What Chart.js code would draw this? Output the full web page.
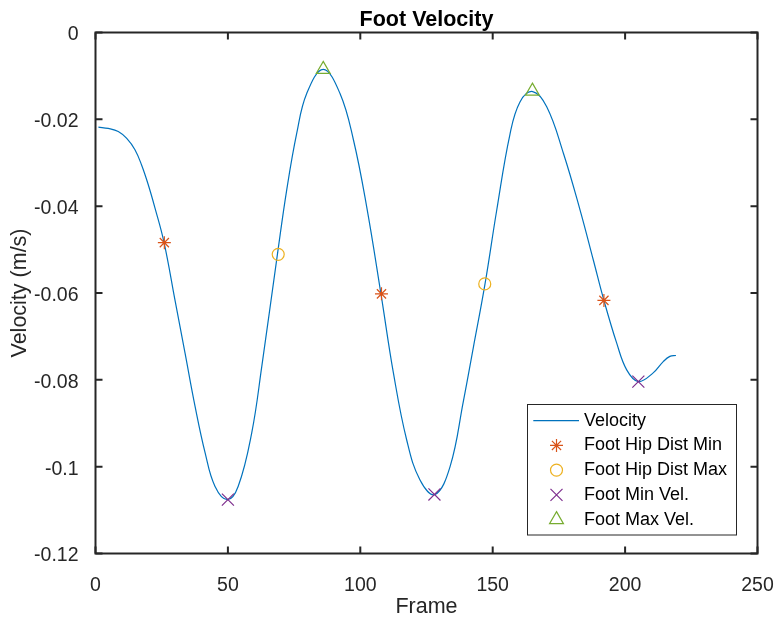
<!DOCTYPE html>
<html>
<head>
<meta charset="utf-8">
<script src="https://cdn.jsdelivr.net/npm/chart.js@4/dist/chart.umd.min.js"></script>
<style>
  html, body { margin: 0; padding: 0; background: #ffffff; }
  #wrap { width: 774px; height: 617px; }
</style>
</head>
<body>
<div id="wrap"><canvas id="c" width="774" height="617"></canvas></div>
<script>
// ---------------- data ----------------
const velocityFrames = [1.1, 4.8, 8.6, 11.8, 14.9, 17.4, 19.9, 22.5, 25.9, 30.0, 33.8, 37.6, 41.4, 45.1, 49.8, 53.9, 59.0, 62.8, 68.7, 72.2, 76.0, 79.8, 86.0, 92.3, 97.4, 102.4, 107.8, 112.5, 117.5, 122.5, 128.2, 133.9, 138.9, 142.7, 147.1, 151.5, 156.5, 160.3, 165.1, 170.4, 176.7, 183.0, 188.0, 192.0, 196.8, 200.6, 205.0, 210.6, 214.4, 216.9, 219.2];
const velocityValues = [-0.0218, -0.0221, -0.0228, -0.0244, -0.0270, -0.0305, -0.0350, -0.0405, -0.0484, -0.0616, -0.0738, -0.0861, -0.0968, -0.1045, -0.1076, -0.1045, -0.0922, -0.0769, -0.0511, -0.0363, -0.0232, -0.0140, -0.0085, -0.0140, -0.0247, -0.0401, -0.0602, -0.0784, -0.0938, -0.1030, -0.1064, -0.1000, -0.0850, -0.0725, -0.0579, -0.0410, -0.0235, -0.0160, -0.0136, -0.0171, -0.0278, -0.0409, -0.0524, -0.0617, -0.0715, -0.0777, -0.0804, -0.0784, -0.0758, -0.0746, -0.0744];

const hipMinFrames = [26, 108, 192];
const hipMinValues = [-0.0484, -0.0602, -0.0617];

const hipMaxFrames = [69, 147];
const hipMaxValues = [-0.0511, -0.0579];

const minVelFrames = [50, 128, 205];
const minVelValues = [-0.1076, -0.1064, -0.0804];

const maxVelFrames = [86, 165];
const maxVelValues = [-0.0085, -0.0135];

const seriesNames = ['Velocity', 'Foot Hip Dist Min', 'Foot Hip Dist Max', 'Foot Min Vel.', 'Foot Max Vel.'];
const xTickLabels = ['0', '50', '100', '150', '200', '250'];
const yTickLabels = ['0', '-0.02', '-0.04', '-0.06', '-0.08', '-0.1', '-0.12'];
const chartTitle = 'Foot Velocity';
const xTitle = 'Frame';
const yTitle = 'Velocity (m/s)';

// ---------------- helpers ----------------
const pts = (xs, ys) => xs.map((x, i) => ({ x: x, y: ys[i] }));
const FONT = "'Liberation Sans', Arial, Helvetica, sans-serif";
const AXC = '#262626';
const COLORS = ['#0072BD', '#D95319', '#EDB120', '#7E2F8E', '#77AC30'];

const markerStyles = [
  null,
  { pointStyle: 'star', radius: 6.5 },
  { pointStyle: 'circle', radius: 6 },
  { pointStyle: 'crossRot', radius: 8.5 },
  { pointStyle: 'triangle', radius: 8 }
];

function drawMarker(ctx, style, radius, x, y, color) {
  ctx.save();
  ctx.strokeStyle = color;
  ctx.fillStyle = 'rgba(0,0,0,0)';
  ctx.lineWidth = 1.2;
  if (Chart.helpers && Chart.helpers.drawPoint) {
    Chart.helpers.drawPoint(ctx, { pointStyle: style, radius: radius, borderWidth: 1.2, rotation: 0 }, x, y);
  }
  ctx.restore();
}

// box, inward ticks, title, legend
const matlabAxes = {
  id: 'matlabAxes',
  afterDraw(chart) {
    const ctx = chart.ctx;
    const a = chart.chartArea;
    const xs = chart.scales.x, ys = chart.scales.y;
    ctx.save();
    ctx.strokeStyle = AXC;
    ctx.lineWidth = 2;
    ctx.beginPath();
    const tl = 7;
    xs.ticks.forEach(t => {
      const px = xs.getPixelForValue(t.value);
      ctx.moveTo(px, a.bottom); ctx.lineTo(px, a.bottom - tl);
      ctx.moveTo(px, a.top); ctx.lineTo(px, a.top + tl);
    });
    ys.ticks.forEach(t => {
      const py = ys.getPixelForValue(t.value);
      ctx.moveTo(a.left, py); ctx.lineTo(a.left + tl, py);
      ctx.moveTo(a.right, py); ctx.lineTo(a.right - tl, py);
    });
    ctx.stroke();
    ctx.strokeRect(a.left, a.top, a.right - a.left, a.bottom - a.top);

    // title
    ctx.fillStyle = '#000000';
    ctx.font = 'bold 21.5px ' + FONT;
    ctx.textAlign = 'center';
    ctx.textBaseline = 'alphabetic';
    ctx.fillText(chartTitle, (a.left + a.right) / 2, 25.5);

    // legend
    const lx = 527.5, ly = 404.5, lw = 209, lh = 130.5;
    ctx.fillStyle = '#ffffff';
    ctx.fillRect(lx, ly, lw, lh);
    ctx.strokeStyle = AXC;
    ctx.lineWidth = 1;
    ctx.strokeRect(lx, ly, lw, lh);
    const rowY = [420.7, 445.4, 470.1, 494.9, 519.6];
    ctx.font = '18px ' + FONT;
    ctx.textAlign = 'left';
    ctx.textBaseline = 'middle';
    seriesNames.forEach((name, i) => {
      const y = rowY[i];
      if (i === 0) {
        ctx.strokeStyle = COLORS[0];
        ctx.lineWidth = 1.2;
        ctx.beginPath();
        ctx.moveTo(533.3, y); ctx.lineTo(579, y);
        ctx.stroke();
      } else {
        const m = markerStyles[i];
        drawMarker(ctx, m.pointStyle, m.radius, 556.5, y, COLORS[i]);
      }
      ctx.fillStyle = '#000000';
      ctx.fillText(name, 584, y);
    });
    ctx.restore();
  }
};

function markerDataset(i, xs, ys) {
  const m = markerStyles[i];
  return {
    label: seriesNames[i],
    data: pts(xs, ys),
    showLine: false,
    pointStyle: m.pointStyle,
    pointRadius: m.radius,
    pointHoverRadius: m.radius,
    pointBorderWidth: 1.2,
    borderColor: COLORS[i],
    pointBorderColor: COLORS[i],
    backgroundColor: 'rgba(0,0,0,0)',
    pointBackgroundColor: 'rgba(0,0,0,0)',
    order: 1,
    clip: false
  };
}

new Chart(document.getElementById('c'), {
  type: 'scatter',
  data: {
    datasets: [
      markerDataset(1, hipMinFrames, hipMinValues),
      markerDataset(2, hipMaxFrames, hipMaxValues),
      markerDataset(3, minVelFrames, minVelValues),
      markerDataset(4, maxVelFrames, maxVelValues),
      {
        label: seriesNames[0],
        data: pts(velocityFrames, velocityValues),
        showLine: true,
        borderColor: COLORS[0],
        borderWidth: 1.2,
        pointRadius: 0,
        pointHoverRadius: 0,
        tension: 0.4,
        fill: false,
        order: 5
      }
    ]
  },
  options: {
    responsive: false,
    animation: false,
    events: [],
    layout: { padding: { left: 0, right: 16.5, top: 32.5, bottom: 0 } },
    plugins: {
      legend: { display: false },
      title: { display: false },
      tooltip: { enabled: false }
    },
    scales: {
      x: {
        type: 'linear',
        min: 0, max: 250,
        grid: { display: false },
        border: { display: false },
        afterFit(s) { s.height = 63.5; s.paddingLeft = 0; s.paddingRight = 0; },
        ticks: {
          stepSize: 50,
          autoSkip: false,
          maxRotation: 0,
          padding: 12.6,
          color: AXC,
          font: { family: FONT, size: 19.5 },
          callback: (v) => xTickLabels.find(l => Math.abs(Number(l) - v) < 1e-9) ?? ''
        },
        title: {
          display: true,
          text: xTitle,
          color: AXC,
          font: { family: FONT, size: 21.5, lineHeight: 0.88 },
          padding: { top: 0, bottom: 0 }
        }
      },
      y: {
        type: 'linear',
        min: -0.12, max: 0,
        grid: { display: false },
        border: { display: false },
        afterFit(s) { s.width = 95.5; s.paddingTop = 0; s.paddingBottom = 0; },
        ticks: {
          stepSize: 0.02,
          autoSkip: false,
          padding: 9,
          labelOffset: 2.5,
          color: AXC,
          font: { family: FONT, size: 19.5 },
          callback: (v) => yTickLabels.find(l => Math.abs(Number(l) - v) < 1e-9) ?? ''
        },
        title: {
          display: true,
          text: yTitle,
          color: AXC,
          font: { family: FONT, size: 21.5, lineHeight: 0.88 },
          padding: { top: 10.8, bottom: 0 }
        }
      }
    }
  },
  plugins: [matlabAxes]
});
</script>
</body>
</html>
